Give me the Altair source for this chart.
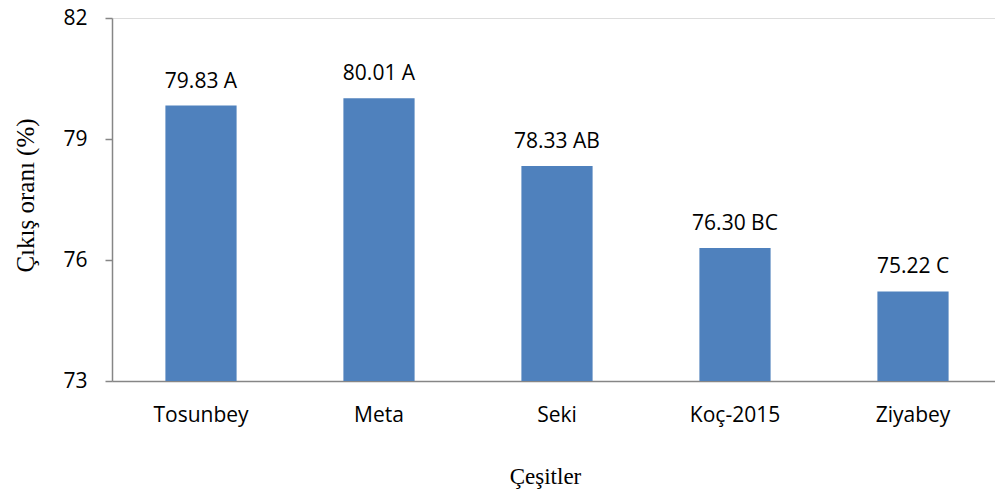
import altair as alt
import pandas as pd

cultivars = ["Tosunbey", "Meta", "Seki", "Koç-2015", "Ziyabey"]
yield_pct = [79.83, 80.01, 78.33, 76.30, 75.22]
groups = ["A", "A", "AB", "BC", "C"]

df = pd.DataFrame({"cesit": cultivars, "oran": yield_pct, "grup": groups})
df["etiket"] = [f"{v:.2f} {g}" for v, g in zip(yield_pct, groups)]

SANS = "Open Sans"
SERIF = "Liberation Serif"

base = alt.Chart(df).encode(
    x=alt.X(
        "cesit:N",
        sort=cultivars,
        title="Çeşitler",
        scale=alt.Scale(paddingInner=0.6, paddingOuter=0.3, range=[0, 890]),
        axis=alt.Axis(
            labelAngle=0,
            labelFont=SANS,
            labelFontSize=21,
            labelColor="black",
            labelPadding=23,
            ticks=False,
            domainColor="#868686",
            domainWidth=1.5,
            titleFont=SERIF,
            titleFontSize=23,
            titleFontWeight="normal",
            titleColor="black",
            titleBaseline="alphabetic",
            titleX=433,
            titleY=102,
        ),
    ),
    y=alt.Y(
        "oran:Q",
        title="Çıkış oranı (%)",
        scale=alt.Scale(domain=[73, 82], zero=False),
        axis=alt.Axis(
            values=[73, 76, 79, 82],
            grid=False,
            labelFont=SANS,
            labelFontSize=21,
            labelColor="black",
            labelPadding=18,
            tickColor="#868686",
            tickSize=7,
            tickWidth=1.5,
            domainColor="#868686",
            domainWidth=1.5,
            titleFont=SERIF,
            titleFontSize=25,
            titleFontWeight="normal",
            titleColor="black",
            titleBaseline="middle",
            titleX=-87,
            titleY=177,
        ),
    ),
)

bars = base.mark_bar(color="#4F81BD").encode(y2=alt.datum(73))
labels = base.mark_text(
    baseline="alphabetic", dy=-18, font=SANS, fontSize=21, color="black"
).encode(text="etiket:N")

chart = (
    (bars + labels)
    .properties(
        width=883,
        height=363,
        autosize=alt.AutoSizeParams(type="none"),
        padding={"left": 112, "top": 18, "right": 0, "bottom": 112},
    )
    .configure_view(stroke=None)
    .configure(background="white")
)

chart.save("out.html", embed_options={"renderer": "svg", "actions": False})
